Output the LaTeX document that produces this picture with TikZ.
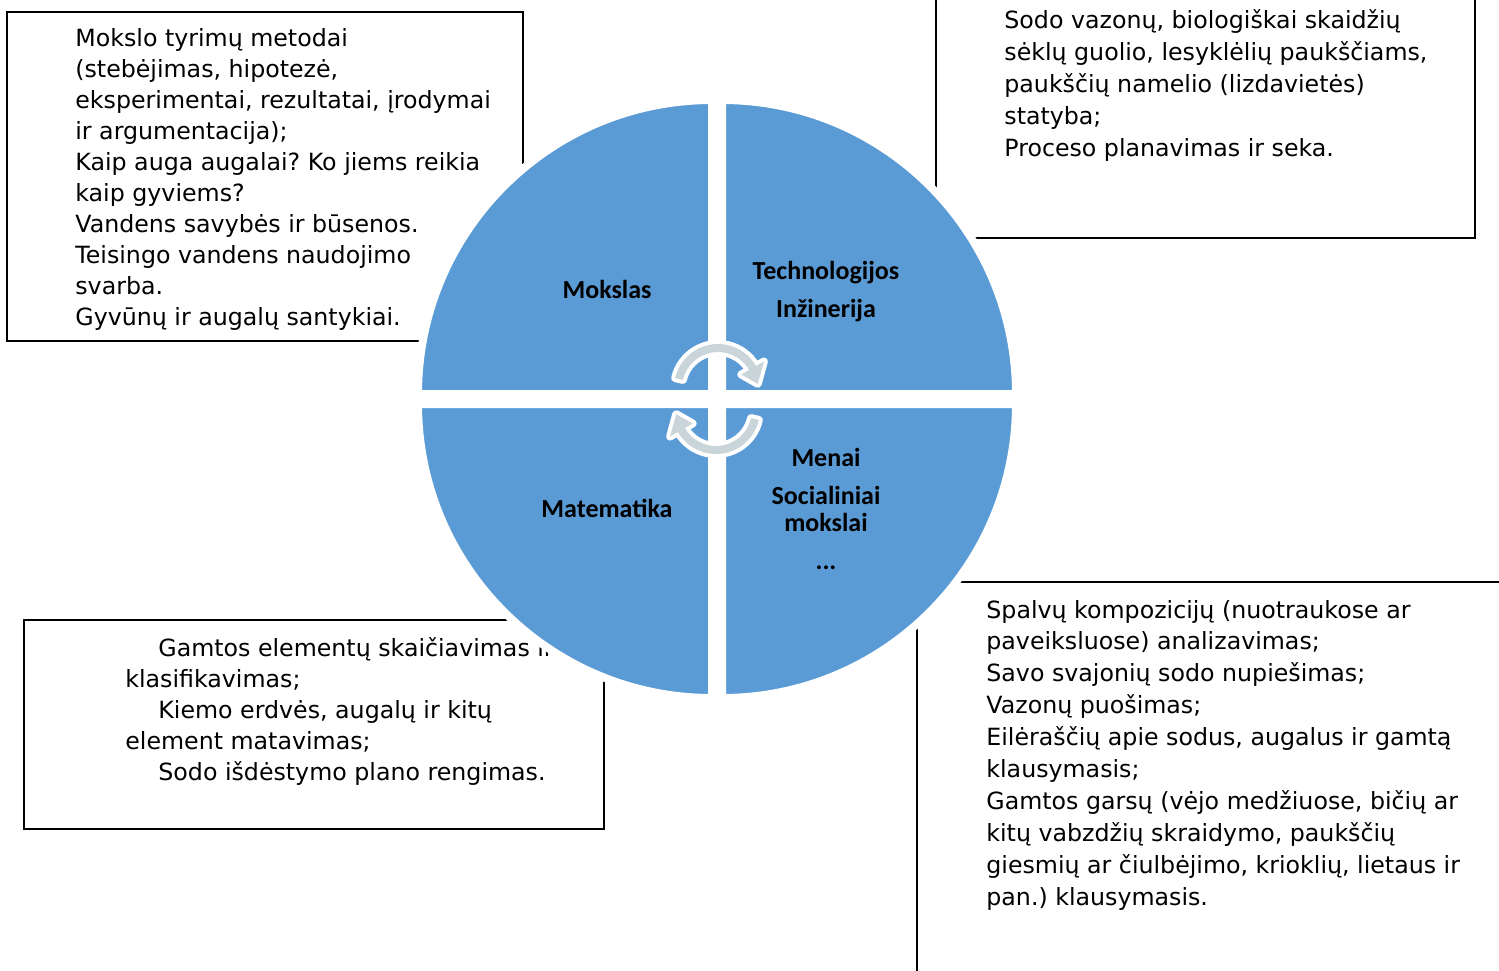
\documentclass[tikz,border=0pt]{standalone}
\usepackage{fontspec}
\usetikzlibrary{calc}
\newfontfamily\boxfont{DejaVu Sans}
\newfontfamily\quadfont{Carlito}
\definecolor{quadblue}{HTML}{5B9BD5}
\definecolor{arrowgray}{HTML}{CAD5D9}
\frenchspacing
\tikzset{
  boxline/.style={draw=black, fill=white, line width=0.9pt},
  boxtext/.style={anchor=base west, inner sep=0pt},
  quadrant/.style={fill=quadblue, draw=white, line width=4pt},
  quadlabel/.style={anchor=base, inner sep=0pt, font=\quadfont\bfseries\fontsize{13}{14}\selectfont},
  cyclearrow/.style={draw=white, line width=4pt, line join=round, fill=arrowgray, postaction={draw=none, fill=arrowgray}},
}
\begin{document}
\begin{tikzpicture}[x=0.5pt,y=-0.5pt]
\useasboundingbox (0,0) rectangle (1499,970);
\clip (0,0) rectangle (1499,970);
\fill[white] (0,0) rectangle (1499,970);

% text boxes
\draw[boxline] (7,12) rectangle (523,341);
\draw[boxline] (936,-10) rectangle (1475,238);
\draw[boxline] (24,620) rectangle (604,829);
\draw[boxline] (917,582) rectangle (1530,1000);

\node[boxtext, font=\boxfont\fontsize{11.85}{15.5}\selectfont] (sciencetext) at (75,46) {\begin{tabular}[t]{@{}l@{}}
Mokslo tyrimų metodai\\
(stebėjimas, hipotezė,\\
eksperimentai, rezultatai, įrodymai\\
ir argumentacija);\\
Kaip auga augalai? Ko jiems reikia\\
kaip gyviems?\\
Vandens savybės ir būsenos.\\
Teisingo vandens naudojimo\\
svarba.\\
Gyvūnų ir augalų santykiai.
\end{tabular}};

\node[boxtext, font=\boxfont\fontsize{11.85}{16}\selectfont] (techtext) at (1004,28.5) {\begin{tabular}[t]{@{}l@{}}
Sodo vazonų, biologiškai skaidžių\\
sėklų guolio, lesyklėlių paukščiams,\\
paukščių namelio (lizdavietės)\\
statyba;\\
Proceso planavimas ir seka.
\end{tabular}};

\node[boxtext, font=\boxfont\fontsize{11.85}{15.6}\selectfont] (mathtext) at (125,656) {\begin{tabular}[t]{@{}l@{}}
\hspace*{16.5pt}Gamtos elementų skaičiavimas ir\\
klasifikavimas;\\
\hspace*{16.5pt}Kiemo erdvės, augalų ir kitų\\
element matavimas;\\
\hspace*{16.5pt}Sodo išdėstymo plano rengimas.
\end{tabular}};

\node[boxtext, font=\boxfont\fontsize{11.85}{15.95}\selectfont] (artstext) at (986,618) {\begin{tabular}[t]{@{}l@{}}
Spalvų kompozicijų (nuotraukose ar\\
paveiksluose) analizavimas;\\
Savo svajonių sodo nupiešimas;\\
Vazonų puošimas;\\
Eilėraščių apie sodus, augalus ir gamtą\\
klausymasis;\\
Gamtos garsų (vėjo medžiuose, bičių ar\\
kitų vabzdžių skraidymo, paukščių\\
giesmių ar čiulbėjimo, krioklių, lietaus ir\\
pan.) klausymasis.
\end{tabular}};

% circle quadrants
\path[quadrant] (712,394) -- (418,394) arc[start angle=180, end angle=270, radius=294] -- cycle;
\path[quadrant] (722,394) -- (722,100) arc[start angle=270, end angle=360, radius=294] -- cycle;
\path[quadrant] (722,404) -- (1016,404) arc[start angle=0, end angle=90, radius=294] -- cycle;
\path[quadrant] (712,404) -- (712,698) arc[start angle=90, end angle=180, radius=294] -- cycle;

% quadrant labels
\node[quadlabel] (mokslas) at (607,298) {Mokslas};
\node[quadlabel] (technologijos) at (826,279.5) {\begin{tabular}[t]{@{}c@{}}Technologijos\\[4.75pt]Inžinerija\end{tabular}};
\node[quadlabel] (matematika) at (607,517) {Matematika};
\node[quadlabel, font=\quadfont\bfseries\fontsize{13}{13.35}\selectfont] (menai) at (826,466) {\begin{tabular}[t]{@{}c@{}}Menai\\[5.8pt]Socialiniai\\mokslai\\[5.8pt]...\end{tabular}};

% cycle arrows
\coordinate (ta) at (718,388);
\coordinate (ba) at (716,410);
\path[cyclearrow] ($(ta)+(193:44)$) arc[start angle=193, end angle=330, radius=44]
  -- ($(ta)+(330:53)$) -- ($(ta)+(354:40)$) -- ($(ta)+(330:27)$) -- ($(ta)+(330:36)$)
  arc[start angle=330, end angle=193, radius=36] -- cycle;
\path[cyclearrow] ($(ba)+(13:44)$) arc[start angle=13, end angle=150, radius=44]
  -- ($(ba)+(150:53)$) -- ($(ba)+(174:40)$) -- ($(ba)+(150:27)$) -- ($(ba)+(150:36)$)
  arc[start angle=150, end angle=13, radius=36] -- cycle;
\end{tikzpicture}
\end{document}
